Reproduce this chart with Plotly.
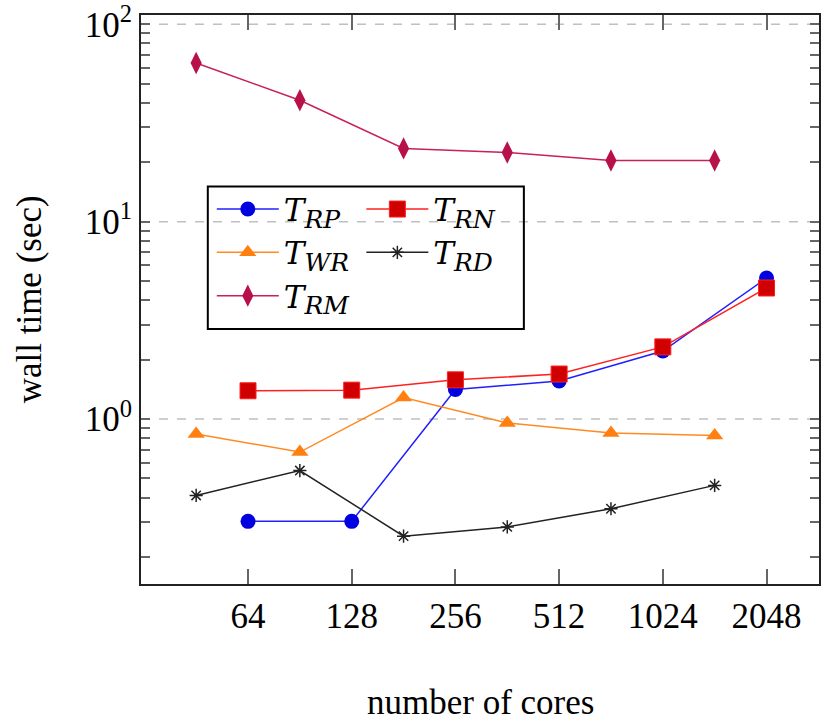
import plotly.graph_objects as go
import math

# ---- data ----
cores_full = [64, 128, 256, 512, 1024, 2048]
cores_half = [45.25, 90.5, 181, 362, 724, 1448]

t_rp = [0.303, 0.303, 1.41, 1.56, 2.21, 5.18]
t_rn = [1.39, 1.40, 1.58, 1.69, 2.32, 4.61]
t_wr = [0.84, 0.68, 1.285, 0.955, 0.85, 0.825]
t_rd = [0.41, 0.548, 0.255, 0.284, 0.351, 0.461]
t_rm = [63.7, 41.2, 23.5, 22.4, 20.4, 20.4]

x_ticks = [64, 128, 256, 512, 1024, 2048]
x_ticktext = ["64", "128", "256", "512", "1024", "2048"]
y_major = [1, 10, 100]
y_major_text = ["10<sup>0</sup>", "10<sup>1</sup>", "10<sup>2</sup>"]
y_minor_digits = [2, 3, 4, 5, 6, 7, 8, 9]
y_minor_decades = [0.1, 1, 10]

FONT = "Liberation Serif"
LEG_FONT = "DejaVu Serif"

# all tick positions on y (majors labelled, minors unlabelled)
y_tickvals = list(y_major)
y_ticktext = list(y_major_text)
for dec in y_minor_decades:
    for d in y_minor_digits:
        v = d * dec
        if v < 112:
            y_tickvals.append(v)
            y_ticktext.append("")

def lab(sub):
    return "<i>T</i><sub><span style='font-size:25px'><i>%s</i></span></sub>" % sub

fig = go.Figure()
fig.add_trace(go.Scatter(x=cores_full, y=t_rp, mode="lines+markers", name=lab("RP"),
                         line=dict(color="#2020ff", width=1.5),
                         marker=dict(symbol="circle", size=15, color="#0000e0"), legend="legend"))
fig.add_trace(go.Scatter(x=cores_half, y=t_wr, mode="lines+markers", name=lab("WR"),
                         line=dict(color="#ff8a20", width=1.5),
                         marker=dict(symbol="triangle-up", size=15, color="#ff7f10"), legend="legend"))
fig.add_trace(go.Scatter(x=cores_half, y=t_rm, mode="lines+markers", name=lab("RM"),
                         line=dict(color="#c8205a", width=1.5),
                         marker=dict(symbol="diamond-tall", size=16, color="#b8104a"), legend="legend"))
fig.add_trace(go.Scatter(x=cores_full, y=t_rn, mode="lines+markers", name=lab("RN"),
                         line=dict(color="#ff2020", width=1.5),
                         marker=dict(symbol="square", size=16, color="#d00000",
                                     line=dict(color="#ff2020", width=1)), legend="legend2"))
fig.add_trace(go.Scatter(x=cores_half, y=t_rd, mode="lines+markers", name=lab("RD"),
                         line=dict(color="#222222", width=1.5),
                         marker=dict(symbol="asterisk-open", size=11,
                                     line=dict(color="#000000", width=1.5)), legend="legend2"))

L, R, T, B = 141, 0, 13, 137
W, H = 821, 721
pw = W - L - R
ph = H - T - B

def px_x(p):
    return (p - L) / pw

def px_y(p):
    return (H - B - p) / ph

leg_font = dict(family=LEG_FONT, size=31, color="black")

shapes = [dict(type="line", xref="paper", yref="y", x0=0, x1=1, y0=v, y1=v,
               line=dict(color="#c0c0c0", width=1.5, dash="dash"), layer="below")
          for v in y_major]
shapes.append(dict(type="rect", xref="paper", yref="paper",
                   x0=px_x(208), x1=px_x(525), y0=px_y(328), y1=px_y(185),
                   line=dict(color="black", width=2), fillcolor="rgba(0,0,0,0)", layer="above"))

title_font = dict(family=FONT, size=35, color="black")
annotations = [
    dict(text="number of cores", xref="paper", yref="paper", x=px_x(482), y=px_y(703),
         xanchor="center", yanchor="middle", showarrow=False, font=title_font),
    dict(text="wall time (sec)", xref="paper", yref="paper", x=px_x(29), y=px_y(298),
         xanchor="center", yanchor="middle", showarrow=False, font=title_font, textangle=-90),
]

fig.update_layout(
    width=W, height=H,
    margin=dict(l=L, r=R, t=T, b=B, pad=0),
    paper_bgcolor="white", plot_bgcolor="white",
    font=dict(family=FONT, size=34, color="black"),
    showlegend=True,
    legend=dict(x=px_x(212), y=px_y(181), xanchor="left", yanchor="top",
                bgcolor="rgba(0,0,0,0)", borderwidth=0, font=leg_font,
                itemwidth=62, tracegroupgap=0),
    legend2=dict(x=px_x(362), y=px_y(181), xanchor="left", yanchor="top",
                 bgcolor="rgba(0,0,0,0)", borderwidth=0, font=leg_font,
                 itemwidth=62, tracegroupgap=0),
    shapes=shapes,
    annotations=annotations,
)

fig.update_xaxes(
    type="log",
    range=[4.968 * math.log10(2), 11.506 * math.log10(2)],
    tickvals=x_ticks, ticktext=x_ticktext,
    ticks="inside", ticklen=15, tickwidth=1.5, tickcolor="#666666",
    showline=True, linecolor="#222222", linewidth=2, mirror="ticks",
    showgrid=False, zeroline=False, ticklabeloverflow="allow",
    tickfont=dict(family=FONT, size=35, color="black"),
)
fig.update_yaxes(
    type="log",
    range=[-0.836, 2.047],
    tickvals=y_tickvals, ticktext=y_ticktext,
    ticks="inside", ticklen=9, tickwidth=1.5, tickcolor="#666666",
    showline=True, linecolor="#222222", linewidth=2, mirror="ticks",
    showgrid=False, zeroline=False, ticklabeloverflow="allow",
    tickfont=dict(family=FONT, size=35, color="black"),
)

fig.write_html("out.html")
